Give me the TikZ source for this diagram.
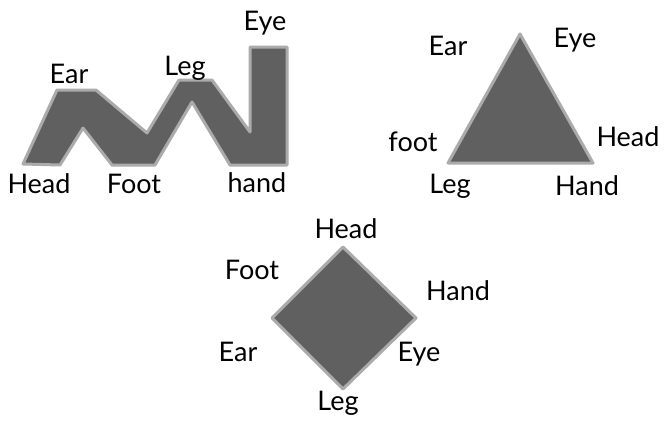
\documentclass[tikz,border=0pt]{standalone}
\usepackage{fontspec}
\setmainfont{Lato}
\definecolor{shapefill}{HTML}{606060}
\definecolor{shapeedge}{HTML}{ABABAB}
\begin{document}
\begin{tikzpicture}[x=1pt,y=-1pt,
  shp/.style={fill=shapefill,draw=shapeedge,line width=3pt,line join=round},
  lbl/.style={font=\fontsize{27}{30}\selectfont,inner sep=0pt,anchor=center}]
\useasboundingbox (0,0) rectangle (665,421);
% zigzag
\draw[shp] (23,164) -- (57,90) -- (96,90) -- (147,133) -- (179,80) -- (212,80)
  -- (250,132) -- (250,47) -- (287,47) -- (287,165) -- (230,165) -- (192,102)
  -- (155,165) -- (112,165) -- (83,128) -- (60,165) -- cycle;
\node[lbl] (zhead) at (39,184) {Head};
\node[lbl] (zear)  at (69,74) {Ear};
\node[lbl] (zfoot) at (134,184) {Foot};
\node[lbl] (zleg)  at (185,68) {Leg};
\node[lbl] (zeye)  at (265,23) {Eye};
\node[lbl] (zhand) at (257,183) {hand};
% triangle
\draw[shp] (520,34) -- (593,163) -- (448,163) -- cycle;
\node[lbl] (tear)  at (448,46) {Ear};
\node[lbl] (teye)  at (575,40) {Eye};
\node[lbl] (tfoot) at (413,142) {foot};
\node[lbl] (thead) at (628,137) {Head};
\node[lbl] (tleg)  at (450,186) {Leg};
\node[lbl] (thand) at (587,186) {Hand};
% diamond
\draw[shp] (343,247) -- (416,318) -- (343,389) -- (272,318) -- cycle;
\node[lbl] (dhead) at (346,229) {Head};
\node[lbl] (dfoot) at (252,270) {Foot};
\node[lbl] (dhand) at (458,291) {Hand};
\node[lbl] (dear)  at (238,352) {Ear};
\node[lbl] (deye)  at (419,354) {Eye};
\node[lbl] (dleg)  at (338,403) {Leg};
\end{tikzpicture}
\end{document}
